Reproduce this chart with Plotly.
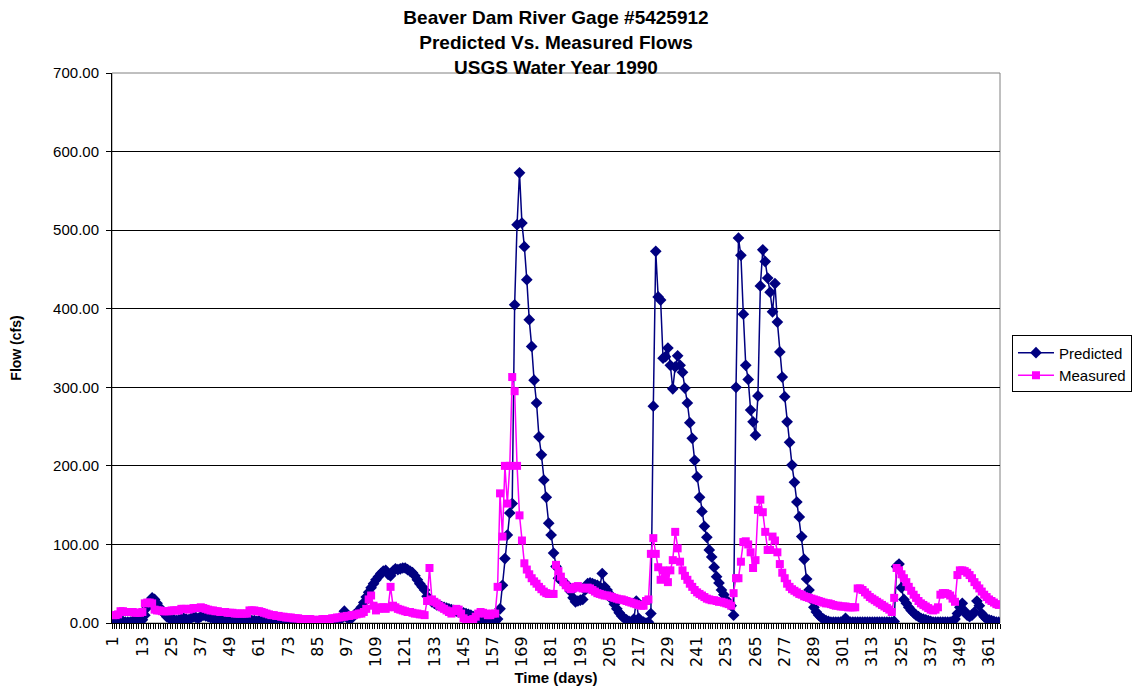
import plotly.graph_objects as go

# Daily flows (cfs), water year 1990, day 1..365
days = list(range(1, 366))

predicted = [
    # 1-24
    2, 1, 1, 2, 2, 1, 1, 1, 2, 3, 2, 2, 4, 10, 20, 28, 32, 30, 25, 20, 15, 12, 8, 6,
    # 25-60
    5, 4, 3, 4, 5, 6, 5, 4, 6, 8, 7, 6, 8, 10, 9, 8, 7, 6, 5, 4,
    5, 4, 4, 3, 3, 4, 5, 5, 4, 3, 3, 4, 4, 3, 3, 2,
    # 61-97
    3, 5, 4, 3, 2, 2, 2, 2, 1, 1, 2, 2, 1, 1, 1, 2, 2, 1, 1, 1,
    2, 2, 2, 1, 1, 1, 2, 2, 2, 2, 3, 3, 3, 3, 8, 15, 8,
    # 98-158
    4, 6, 10, 13, 16, 20, 26, 33, 39, 45, 50, 55, 59, 63, 66, 67, 62, 60, 66, 69,
    68, 69, 70, 70, 68, 66, 64, 60, 55, 50, 46, 42, 34, 30, 27, 25, 23, 22, 21, 20,
    19, 18, 17, 16, 15, 14, 13, 13, 12, 11, 10, 8, 7, 6, 5, 5, 5, 8, 5, 3, 2,
    # 159-184
    5, 18, 48, 82, 112, 140, 152, 405, 507, 573, 509, 479, 437, 386, 352, 309, 280, 237, 214, 182,
    160, 127, 112, 89, 72, 57,
    # 185-222
    55, 52, 50, 46, 40, 32, 27, 28, 29, 30, 42, 50, 51, 50, 49, 48, 46, 63, 46, 42,
    37, 30, 24, 18, 13, 9, 6, 4, 2, 1, 5, 28, 6, 2, 1, 0, 1, 12,
    # 223-257
    276, 473, 415, 411, 337, 339, 350, 328, 298, 326, 340, 328, 319, 299, 280, 255, 235, 207, 186, 160,
    142, 123, 109, 93, 84, 71, 59, 51, 42, 36, 29, 26, 22, 10, 300,
    # 258-295
    490, 468, 393, 328, 310, 271, 256, 239, 289, 429, 475, 460, 439, 421, 396, 432, 383, 345, 313, 288,
    256, 230, 201, 179, 154, 135, 110, 81, 56, 42, 30, 20, 14, 10, 7, 5, 3, 2,
    # 296-322
    1, 1, 1, 1, 1, 2, 6, 2, 1, 1, 1, 1, 1, 1, 1, 1, 1, 1, 1, 1, 1, 1, 1, 1, 1, 1, 2,
    # 323-365
    72, 75, 45, 30, 25, 20, 16, 13, 10, 8, 6, 5, 4, 3, 2, 1, 1, 1, 1, 1,
    1, 1, 1, 2, 5, 12, 20, 25, 15, 10, 8, 10, 14, 28, 22, 12, 8, 5, 4, 3,
    2, 1, 1,
]

measured = [
    # 1-24
    10, 10, 11, 15, 15, 14, 14, 14, 14, 13, 13, 13, 14, 25, 26, 26, 25, 17, 16, 16, 15, 15, 15, 15,
    # 25-60
    16, 16, 16, 16, 18, 18, 18, 17, 18, 19, 19, 19, 20, 19, 18, 17, 16, 16, 15, 15,
    14, 14, 14, 13, 13, 13, 12, 12, 12, 12, 12, 12, 16, 16, 16, 15,
    # 61-100
    15, 14, 13, 12, 11, 10, 10, 9, 9, 8, 8, 7, 7, 7, 6, 6, 6, 5, 5, 5,
    5, 5, 4, 4, 4, 4, 5, 5, 5, 5, 6, 6, 7, 7, 8, 8, 9, 9, 10, 10,
    # 101-158
    11, 12, 12, 14, 18, 30, 35, 22, 16, 18, 20, 20, 18, 20, 46, 22, 20, 18, 17, 16,
    15, 14, 14, 13, 12, 12, 11, 11, 10, 28, 70, 30, 27, 25, 22, 20, 18, 16, 14, 12,
    15, 18, 17, 12, 6, 3, 3, 4, 5, 8, 12, 14, 13, 12, 10, 10, 12, 12,
    # 159-184
    46, 165, 110, 200, 152, 200, 313, 295, 200, 137, 105, 76, 68, 62, 57, 53, 50, 46, 43, 40,
    38, 37, 37, 37, 74, 66,
    # 185-222
    59, 52, 48, 45, 43, 44, 46, 47, 45, 44, 44, 45, 44, 42, 40, 38, 37, 36, 35, 35,
    34, 33, 32, 31, 30, 30, 29, 28, 27, 26, 25, 24, 23, 22, 22, 28, 30, 88,
    # 223-257
    108, 88, 71, 55, 67, 60, 52, 67, 80, 116, 95, 78, 67, 60, 55, 50, 46, 42, 39, 37,
    35, 33, 31, 30, 29, 29, 28, 27, 27, 26, 25, 24, 22, 38, 57,
    # 258-295
    57, 78, 103, 104, 100, 90, 70, 80, 144, 157, 141, 116, 93, 93, 110, 105, 90, 75, 64, 57,
    50, 46, 43, 41, 39, 37, 36, 34, 33, 32, 31, 30, 29, 28, 27, 26, 25, 25,
    # 296-322
    24, 23, 22, 22, 21, 21, 21, 20, 20, 20, 20, 44, 44, 42, 39, 36, 33, 31, 29, 27,
    25, 23, 21, 19, 17, 14, 32,
    # 323-365
    70, 67, 62, 57, 52, 46, 41, 36, 32, 28, 25, 23, 21, 19, 17, 16, 17, 20, 36, 38,
    38, 37, 35, 31, 27, 61, 67, 67, 66, 64, 61, 57, 52, 48, 44, 40, 36, 33, 30, 28,
    26, 24, 23,
]

tick_days = list(range(1, 366, 12))
tick_text = [str(d) for d in tick_days]

font_family = "Liberation Sans, Arial, sans-serif"

fig = go.Figure()
fig.add_trace(go.Scatter(x=days, y=predicted, name='Predicted', mode='lines+markers',
                         line=dict(color='#000080', width=1.5),
                         marker=dict(symbol='diamond', size=9, color='#000080')))
fig.add_trace(go.Scatter(x=days, y=measured, name='Measured', mode='lines+markers',
                         line=dict(color='#FF00FF', width=1.5),
                         marker=dict(symbol='square', size=8, color='#FF00FF')))

# the page body adds an 8px margin, so the figure is 8px smaller than the window
fig.update_layout(
    width=1132, height=686,
    margin=dict(l=104, r=140, t=65, b=71, autoexpand=False),
    plot_bgcolor='#ffffff', paper_bgcolor='#ffffff',
    font=dict(family=font_family, color='black', size=15),
    title=dict(text='<b>Beaver Dam River Gage #5425912<br>Predicted Vs. Measured Flows<br>USGS Water Year 1990</b>',
               x=0.5, xref='paper', xanchor='center', y=0.976, yref='container', yanchor='top',
               font=dict(size=19)),
    legend=dict(x=1.0135, y=0.471, xanchor='left', yanchor='middle', bordercolor='black', borderwidth=1,
                bgcolor='white', font=dict(size=15), tracegroupgap=0, itemwidth=36),
    xaxis=dict(range=[0.5, 365.5], tickmode='array', tickvals=tick_days, ticktext=tick_text,
               tickangle=-90, ticks='outside', ticklen=6, tickcolor='rgba(0,0,0,0)',
               tickfont=dict(family='DejaVu Sans, sans-serif', size=16), automargin=False,
               minor=dict(ticks='outside', ticklen=5, tick0=0.5, dtick=1, tickcolor='black', showgrid=False),
               showline=True, linecolor='black', linewidth=1, showgrid=False, zeroline=False,
               title=dict(text='<b>Time (days)</b>', font=dict(size=15), standoff=6)),
    yaxis=dict(range=[0, 700], dtick=100, tickformat='.2f', ticks='outside', ticklen=5, tickcolor='black',
               ticklabelstandoff=4, automargin=False,
               showline=True, linecolor='black', linewidth=1, showgrid=True, gridcolor='black', gridwidth=1,
               zeroline=False,
               title=dict(text='<b>Flow (cfs)</b>', font=dict(size=14), standoff=28)),
    showlegend=True,
)

# plot area frame (gray, like the spreadsheet chart)
fig.add_shape(type='rect', xref='paper', yref='paper', x0=0, y0=0, x1=1, y1=1,
              line=dict(color='#808080', width=1), layer='below')

fig.write_html("out.html")
